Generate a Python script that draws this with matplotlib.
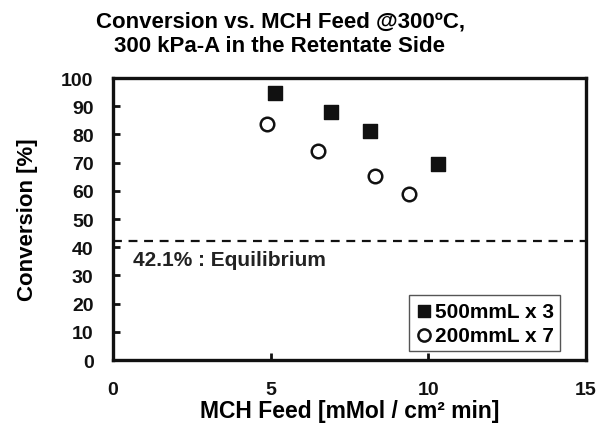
import matplotlib
matplotlib.use("Agg")
import matplotlib.pyplot as plt

plt.rcParams['font.family'] = ['Liberation Sans', 'DejaVu Sans']
plt.rcParams['font.weight'] = 'bold'

# data
feed_500 = [5.15, 6.9, 8.15, 10.3]
conv_500 = [94.8, 87.8, 81.2, 69.6]
feed_200 = [4.87, 6.5, 8.32, 9.39]
conv_200 = [83.6, 74.2, 65.1, 58.8]
equilibrium = 42.1

x_ticks = [0, 5, 10, 15]
y_ticks = list(range(0, 101, 10))

fig = plt.figure(figsize=(5.99, 4.27), dpi=100)
ax = fig.add_axes([113 / 599, 1 - 361 / 427, 473 / 599, 282 / 427])

ax.scatter(feed_500, conv_500, marker='s', s=95, color='#111111', label='500mmL x 3', zorder=3)
ax.scatter(feed_200, conv_200, marker='o', s=95, facecolor='white', edgecolor='#111111',
           linewidth=1.8, label='200mmL x 7', zorder=3)
ax.axhline(equilibrium, color='#111111', linestyle=(0, (4, 3)), linewidth=1.6)
ax.text(0.65, equilibrium - 3, '42.1% : Equilibrium', fontsize=15, fontweight='bold',
        va='top', ha='left', color='#222222')

ax.set_xlim(0, 15)
ax.set_ylim(0, 100)
ax.set_xticks(x_ticks)
ax.set_yticks(y_ticks)
ax.tick_params(direction='in', width=2, length=5, labelsize=14, colors='#111111')
ax.tick_params(axis='y', pad=14)
ax.tick_params(axis='x', pad=15)
for lbl in ax.get_xticklabels() + ax.get_yticklabels():
    lbl.set_fontweight('bold')
for sp in ax.spines.values():
    sp.set_linewidth(2.4)
    sp.set_color('#111111')

ax.set_xlabel('MCH Feed [mMol / cm² min]', fontsize=16.5, fontweight='bold', labelpad=1)
ax.set_ylabel('Conversion [%]', fontsize=16, fontweight='bold', labelpad=17)

leg = ax.legend(loc='lower right', fontsize=15, handletextpad=0.05, handlelength=0.9,
                borderpad=0.3, labelspacing=0.25, fancybox=False, framealpha=1,
                edgecolor='#555555', bbox_to_anchor=(0.945, 0.032), borderaxespad=0,
                markerscale=0.9)
leg.get_frame().set_linewidth(1.0)
for t in leg.get_texts():
    t.set_fontweight('bold')

fig.text(280 / 599, 1 - 22 / 427, 'Conversion vs. MCH Feed @300ºC,', ha='center', va='center',
         fontsize=16, fontweight='bold')
fig.text(280 / 599, 1 - 47 / 427, '300 kPa-A in the Retentate Side', ha='center', va='center',
         fontsize=16, fontweight='bold')

fig.savefig('out.png', dpi=100)
